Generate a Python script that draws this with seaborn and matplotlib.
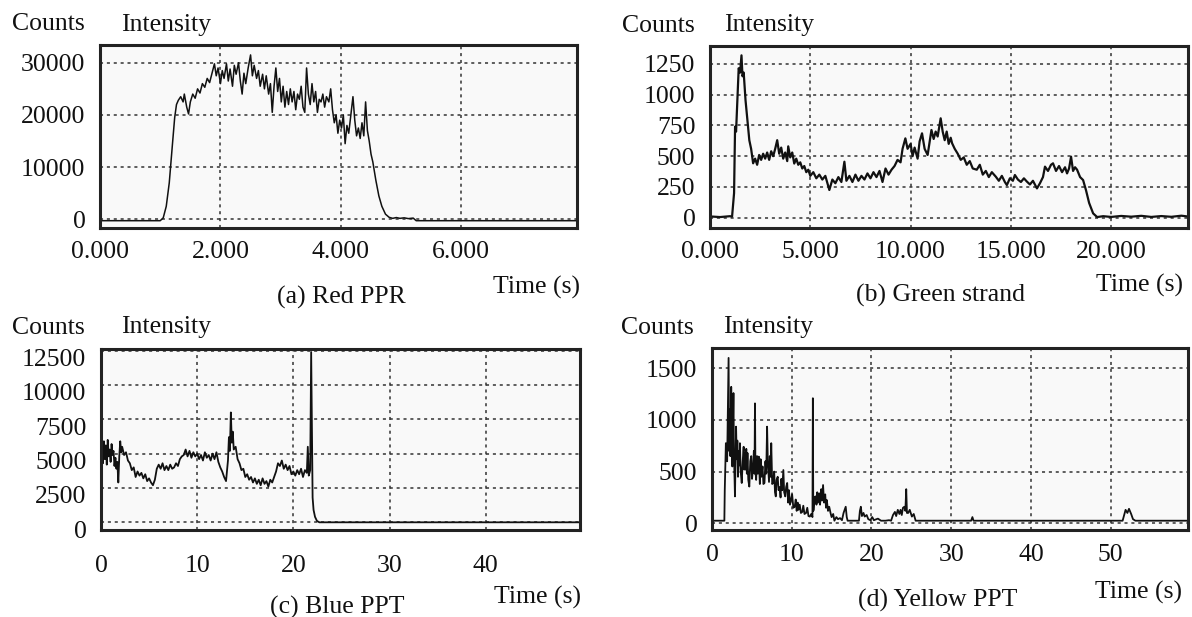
import matplotlib
matplotlib.use("Agg")
import matplotlib.pyplot as plt
import numpy as np
import pandas as pd
import seaborn as sns
from matplotlib.transforms import ScaledTranslation

# ---------------- data ----------------
red_t = [0.0, 1.0, 1.05, 1.10, 1.15, 1.20, 1.24, 1.27, 1.30, 1.34, 1.38, 1.40, 1.44, 1.47, 1.50,
         1.54, 1.58, 1.62, 1.66, 1.70, 1.74, 1.78, 1.82, 1.86, 1.90, 1.93, 1.96, 2.00, 2.03, 2.06,
         2.10, 2.13, 2.16, 2.20, 2.23, 2.26, 2.30, 2.33, 2.36, 2.39, 2.42, 2.46, 2.50, 2.53, 2.56,
         2.60, 2.63, 2.66, 2.70, 2.73, 2.76, 2.80, 2.83, 2.86, 2.89, 2.92, 2.95, 2.98, 3.01, 3.04,
         3.07, 3.10, 3.13, 3.16, 3.19, 3.22, 3.25, 3.28, 3.31, 3.34, 3.37, 3.40, 3.43, 3.46, 3.49,
         3.52, 3.55, 3.58, 3.61, 3.64, 3.67, 3.70, 3.73, 3.76, 3.80, 3.83, 3.86, 3.89, 3.92, 3.95,
         3.98, 4.01, 4.04, 4.07, 4.10, 4.13, 4.16, 4.20, 4.23, 4.26, 4.29, 4.32, 4.35, 4.38, 4.41,
         4.44, 4.47, 4.50, 4.53, 4.58, 4.63, 4.68, 4.74, 4.80, 4.86, 4.92, 4.98, 5.05, 5.12, 5.20,
         5.25, 7.92]
red_v = [-250, -250, 300, 2500, 7000, 14000, 19500, 22000, 22800, 23500, 22500, 24000, 21500, 20200, 22500,
         24000, 23200, 25000, 24200, 26000, 25300, 27000, 26200, 28000, 29800, 27500, 29000, 26000, 28500, 27000,
         29800, 26500, 28800, 25500, 29500, 27800, 30000, 26500, 24000, 28000, 26000, 29000, 31500, 27500, 29500,
         27000, 28500, 25500, 27800, 25000, 27500, 24000, 26000, 20500, 25500, 29000, 24500, 27000, 22500, 25500,
         21500, 24500, 22000, 25000, 22500, 24500, 21000, 24000, 23000, 25500, 21500, 20500, 29000, 24000, 22000,
         26000, 22500, 24500, 20500, 23000, 22500, 24000, 21500, 23500, 22500, 25000, 21000, 18500, 20000, 16500,
         19000, 17500, 20000, 14500, 18000, 16500, 19500, 23500, 19000, 16000, 17500, 15500, 18500, 16000, 22500,
         17000, 15000, 12500, 11000, 7500, 4500, 2500, 1000, 400, 200, 350, 200, 300, 150, 250,
         -250, -250]

green_t = [0.0, 0.5, 1.0, 1.1, 1.2, 1.25, 1.3, 1.35, 1.43, 1.5, 1.57, 1.62, 1.68, 1.77, 1.85, 1.96,
           2.05, 2.15, 2.25, 2.35, 2.45, 2.55, 2.65, 2.75, 2.85, 2.95, 3.05, 3.15, 3.25, 3.35, 3.45,
           3.55, 3.65, 3.75, 3.85, 3.9, 4.0, 4.1, 4.2, 4.3, 4.4, 4.5, 4.6, 4.7, 4.8, 4.9, 5.0, 5.15,
           5.3, 5.45, 5.6, 5.75, 5.95, 6.1, 6.25, 6.4, 6.55, 6.7, 6.8, 6.95, 7.1, 7.25, 7.4, 7.55,
           7.7, 7.85, 8.0, 8.15, 8.3, 8.45, 8.6, 8.75, 8.9, 9.05, 9.2, 9.35, 9.5, 9.6, 9.74, 9.85,
           10.0, 10.1, 10.2, 10.35, 10.45, 10.57, 10.7, 10.85, 10.95, 11.04, 11.15, 11.25, 11.35, 11.5,
           11.6, 11.7, 11.8, 11.9, 12.0, 12.07, 12.2, 12.35, 12.5, 12.65, 12.8, 12.95, 13.1, 13.3,
           13.45, 13.6, 13.75, 13.9, 14.05, 14.25, 14.4, 14.55, 14.7, 14.8, 14.95, 15.1, 15.2, 15.35,
           15.5, 15.65, 15.8, 15.95, 16.1, 16.3, 16.45, 16.6, 16.7, 16.85, 17.0, 17.1, 17.25, 17.4,
           17.55, 17.7, 17.8, 17.9, 18.0, 18.1, 18.2, 18.3, 18.45, 18.6, 18.75, 18.9, 19.1, 19.3,
           19.6, 20.0, 20.5, 21.0, 21.5, 22.0, 22.5, 23.0, 23.5, 23.8]
green_v = [10, 5, 12, 8, 200, 740, 700, 900, 1215, 1180, 1320, 1150, 1180, 957, 820, 630,
           560, 442, 480, 430, 510, 470, 520, 480, 530, 470, 540, 500, 560, 630, 520,
           570, 480, 530, 460, 580, 490, 530, 440, 480, 430, 450, 400, 420, 370, 390, 340, 370,
           320, 350, 310, 340, 225, 310, 280, 330, 290, 455, 300, 340, 290, 350, 300, 340,
           310, 360, 320, 370, 330, 380, 290, 400, 350, 390, 420, 470, 450, 560, 645, 560,
           600, 500, 570, 480, 620, 686, 560, 510, 620, 713, 640, 700, 660, 808,
           700, 630, 700, 600, 650, 605, 560, 520, 470, 490, 430, 460, 400, 390,
           430, 350, 380, 330, 370, 333, 300, 340, 290, 265, 320, 300, 347, 310,
           290, 320, 293, 270, 300, 238, 280, 330, 415, 380, 430, 442, 380, 420,
           370, 410, 360, 400, 496, 380, 410, 390, 330, 306, 220, 120, 35, 5,
           12, 6, 14, 8, 15, 6, 13, 7, 16, 10]

blue_t = [0.0, 0.1, 0.2, 0.3, 0.4, 0.5, 0.6, 0.7, 0.8, 0.9, 1.0, 1.1, 1.2, 1.3, 1.4, 1.5, 1.6,
          1.7, 1.8, 1.9, 2.0, 2.1, 2.2, 2.4, 2.6, 2.8, 3.0, 3.2, 3.4, 3.6, 3.8, 4.0, 4.2, 4.4,
          4.6, 4.8, 5.0, 5.2, 5.4, 5.6, 5.8, 6.0, 6.2, 6.4, 6.6, 6.8, 7.0, 7.2, 7.4, 7.6, 7.8,
          8.0, 8.2, 8.4, 8.6, 8.8, 9.0, 9.2, 9.4, 9.6, 9.8, 10.0, 10.2, 10.4, 10.6, 10.8, 11.0,
          11.2, 11.4, 11.6, 11.8, 12.0, 12.2, 12.4, 12.6, 12.8, 13.0, 13.2, 13.3, 13.4, 13.5,
          13.6, 13.7, 13.8, 14.0, 14.2, 14.4, 14.6, 14.8, 15.0, 15.2, 15.4, 15.6, 15.8, 16.0,
          16.2, 16.4, 16.6, 16.8, 17.0, 17.2, 17.4, 17.6, 17.8, 18.0, 18.2, 18.4, 18.6, 18.8,
          19.0, 19.2, 19.4, 19.6, 19.8, 20.0, 20.2, 20.4, 20.6, 20.8, 21.0, 21.2, 21.4, 21.5,
          21.6, 21.75, 21.85, 21.95, 22.0, 22.1, 22.25, 22.45, 22.7, 49.75]
blue_v = [3800, 5200, 4300, 5900, 4600, 5600, 4200, 6000, 4800, 5300, 4400, 5700, 4900, 5200, 4100, 4700, 3900,
          4400, 2900, 4800, 5900, 5100, 5500, 4900, 5100, 4500, 4300, 3800, 4000, 3300, 3700, 3400, 3600, 3200,
          3500, 3000, 3200, 2900, 2700, 3100, 3900, 4200, 3900, 4300, 3800, 4100, 3800, 4200, 3900, 4000, 4300,
          4100, 4600, 4800, 4900, 5300, 4800, 5200, 4700, 5100, 4800, 5000, 4600, 4900, 4500, 5100, 4700,
          4900, 4500, 5000, 4600, 5100, 4400, 4000, 3700, 3300, 3000, 4500, 6200, 5200, 8000,
          5800, 6600, 5300, 5500, 4600, 4300, 3800, 3900, 3300, 3500, 3100, 3300, 2900, 3200,
          2800, 3100, 2700, 3200, 2800, 3000, 2600, 3100, 2900, 3300, 3700, 4300, 4100, 4500,
          3900, 4200, 3800, 4100, 3500, 3700, 3400, 3800, 3500, 3900, 3300, 3800, 3600, 5500,
          3400, 3800, 12400, 5000, 1800, 900, 400, 100, 0, 0]

yellow_t = [0.0, 1.55, 1.6, 1.74, 1.9, 2.08, 2.15, 2.22, 2.3, 2.41, 2.48, 2.55, 2.62, 2.69, 2.75,
            2.88, 2.95, 3.02, 3.1, 3.18, 3.26, 3.35, 3.42, 3.5, 3.6, 3.73, 3.85, 3.97, 4.05, 4.12,
            4.21, 4.3, 4.37, 4.45, 4.55, 4.68, 4.8, 4.92, 5.02, 5.16, 5.25, 5.33, 5.39, 5.45, 5.54,
            5.65, 5.75, 5.87, 6.0, 6.1, 6.2, 6.34, 6.45, 6.58, 6.7, 6.8, 6.91, 7.0, 7.08, 7.15,
            7.25, 7.35, 7.43, 7.55, 7.67, 7.8, 7.9, 8.0, 8.1, 8.24, 8.35, 8.48, 8.6, 8.7, 8.8,
            8.95, 9.05, 9.19, 9.3, 9.43, 9.55, 9.65, 9.78, 9.9, 10.05, 10.2, 10.37, 10.5, 10.62,
            10.75, 10.85, 11.0, 11.15, 11.32, 11.45, 11.6, 11.8, 11.95, 12.1, 12.27, 12.45, 12.6,
            12.65, 12.7, 12.75, 12.85, 12.98, 13.1, 13.2, 13.3, 13.45, 13.55, 13.7, 13.8, 13.93,
            14.05, 14.2, 14.3, 14.4, 14.55, 14.7, 14.88, 15.0, 15.2, 15.35, 15.6, 15.8, 16.06,
            16.3, 16.5, 16.77, 16.9, 17.01, 18.2, 18.43, 18.55, 18.67, 18.8, 19.0, 19.15, 19.4,
            19.6, 19.86, 20.1, 20.3, 20.81, 21.2, 21.76, 22.2, 22.46, 22.7, 22.94, 23.1, 23.3,
            23.5, 23.65, 23.8, 23.95, 24.13, 24.25, 24.36, 24.45, 24.6, 24.8, 25.07, 25.3, 25.54,
            32.5, 32.66, 32.8, 51.5, 51.87, 52.1, 52.3, 52.57, 52.8, 53.1, 59.7]
yellow_v = [25, 25, 320, 775, 600, 1600, 700, 1100, 650, 1320, 800, 550, 900, 1260, 700,
            260, 600, 935, 620, 800, 450, 700, 560, 775, 500, 390, 600, 740, 520, 680,
            520, 720, 480, 680, 420, 355, 600, 650, 430, 550, 700, 480, 1160, 500, 420,
            650, 480, 645, 380, 620, 450, 550, 380, 390, 600, 480, 935, 600, 500, 400,
            650, 450, 775, 380, 390, 500, 300, 260, 420, 450, 320, 350, 250, 430, 320,
            515, 300, 260, 350, 390, 200, 320, 180, 225, 280, 150, 160, 230, 120,
            200, 130, 180, 100, 110, 170, 90, 100, 150, 70, 65, 90, 60,
            1210, 120, 130, 250, 260, 180, 300, 200, 290, 180, 330, 220, 370,
            200, 280, 150, 225, 120, 160, 95, 60, 90, 25, 60, 40, 50,
            30, 100, 160, 60, 25, 25, 25, 120, 160, 70, 100, 65, 80,
            40, 30, 60, 30, 45, 25, 25, 30, 25, 80, 110, 70, 130,
            90, 130, 80, 150, 160, 120, 330, 100, 100, 130, 65, 90, 25,
            25, 60, 25, 25, 130, 100, 140, 90, 40, 25, 25]

red_xticks = [0, 2, 4, 6]
red_xlabels = ["0.000", "2.000", "4.000", "6.000"]
red_yticks = [0, 10000, 20000, 30000]
green_xticks = [0, 5, 10, 15, 20]
green_xlabels = ["0.000", "5.000", "10.000", "15.000", "20.000"]
green_yticks = [0, 250, 500, 750, 1000, 1250]
blue_xticks = [0, 10, 20, 30, 40]
blue_xlabels = ["0", "10", "20", "30", "40"]
blue_yticks = [0, 2500, 5000, 7500, 10000, 12500]
yellow_xticks = [0, 10, 20, 30, 40, 50]
yellow_xlabels = ["0", "10", "20", "30", "40", "50"]
yellow_yticks = [0, 500, 1000, 1500]
captions = ["(a) Red PPR", "(b) Green strand", "(c) Blue PPT", "(d) Yellow PPT"]

# ---------------- drawing ----------------
W, H = 1192, 617
sns.set_theme(style="white")
plt.rcParams["font.family"] = ["Liberation Serif", "DejaVu Serif"]
FS = 18.5

fig = plt.figure(figsize=(W / 100, H / 100), dpi=100)
fig.patch.set_facecolor("white")

panels = [
    dict(t=red_t, v=red_v, rect=(100, 45, 577, 228), xlim=(0, 7.92), ylim=(-1650, 33400),
         xt=red_xticks, xl=red_xlabels, yt=red_yticks, xpad=9.6, yoff=0,
         counts=(12, 22), inten=121, time=(580, 285), cap=(341, 295), lw=1.1),
    dict(t=green_t, v=green_v, rect=(710, 46, 1188, 228), xlim=(0, 23.83), ylim=(-84, 1396),
         xt=green_xticks, xl=green_xlabels, yt=green_yticks, xpad=9.6, yoff=0,
         counts=(622, 23), inten=724, time=(1183, 283), cap=(941, 293), lw=1.6),
    dict(t=blue_t, v=blue_v, rect=(101, 349, 580, 530), xlim=(0, 49.8), ylim=(-560, 12620),
         xt=blue_xticks, xl=blue_xlabels, yt=blue_yticks, xpad=18.2, yoff=-7,
         counts=(12, 325), inten=121, time=(581, 595), cap=(337, 605), lw=1.3),
    dict(t=yellow_t, v=yellow_v, rect=(712, 348, 1188, 530), xlim=(0, 59.7), ylim=(-65, 1696),
         xt=yellow_xticks, xl=yellow_xlabels, yt=yellow_yticks, xpad=10.3, yoff=0,
         counts=(621, 325), inten=723, time=(1182, 590), cap=(938, 598), lw=1.3),
]

BASE = 8.5  # px from visual centre of capitals to baseline

for i, p in enumerate(panels):
    x0, y0, x1, y1 = p["rect"]
    ax = fig.add_axes([x0 / W, 1 - y1 / H, (x1 - x0) / W, (y1 - y0) / H])
    ax.set_facecolor("#f9f9f9")
    df = pd.DataFrame({"Time": p["t"], "Intensity": p["v"]})
    sns.lineplot(data=df, x="Time", y="Intensity", ax=ax, color="#111111",
                 linewidth=p["lw"], estimator=None, sort=False)
    ax.set_xlim(*p["xlim"])
    ax.set_ylim(*p["ylim"])
    ax.set_xticks(p["xt"])
    ax.set_xticklabels(p["xl"])
    ax.set_yticks(p["yt"])
    ax.set_yticklabels([str(v) for v in p["yt"]])
    ax.set_xlabel("")
    ax.set_ylabel("")
    ax.set_axisbelow(True)
    ax.grid(True, color="#333333", linestyle=(0, (2.0, 2.5)), linewidth=1.1)
    ax.tick_params(axis="x", length=0, labelsize=FS, pad=p["xpad"], colors="#111111")
    ax.tick_params(axis="y", length=0, labelsize=FS, pad=10.5, colors="#111111")
    if p["yoff"]:
        for lab in ax.get_yticklabels():
            lab.set_transform(lab.get_transform() +
                              ScaledTranslation(0, p["yoff"] / 100, fig.dpi_scale_trans))
    for sp in ax.spines.values():
        sp.set_visible(True)
        sp.set_linewidth(2.2)
        sp.set_color("#222222")

    cx, cy = p["counts"]
    fig.text(cx / W, 1 - (cy + BASE) / H, "Counts", fontsize=FS, ha="left", va="baseline", color="#111111")
    fig.text(p["inten"] / W, 1 - (cy + BASE) / H, "Intensity", fontsize=FS, ha="left", va="baseline", color="#111111")
    tx, ty = p["time"]
    fig.text(tx / W, 1 - (ty + BASE) / H, "Time (s)", fontsize=FS, ha="right", va="baseline", color="#111111")
    kx, ky = p["cap"]
    fig.text(kx / W, 1 - (ky + BASE) / H, captions[i], fontsize=FS, ha="center", va="baseline", color="#111111")

fig.savefig("out.png", dpi=100, facecolor="white")
